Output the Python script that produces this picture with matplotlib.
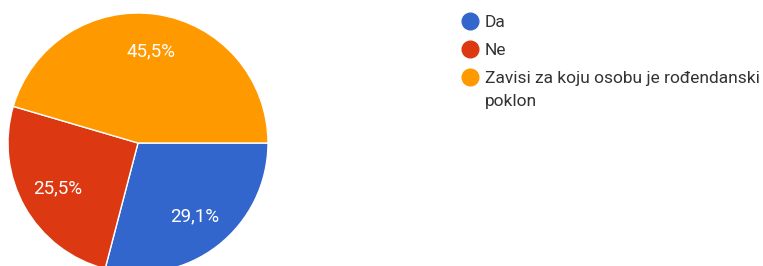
import matplotlib.pyplot as plt

labels = ["Da", "Ne", "Zavisi za koju osobu je rođendanski\npoklon"]
values = [29.1, 25.5, 45.5]
colors = ["#3366CC", "#DC3912", "#FF9900"]

plt.rcParams['font.family'] = ['Roboto', 'DejaVu Sans']

W, H = 763, 266
fig = plt.figure(figsize=(W / 100, H / 100), dpi=100)

# pie centre (138, 143) px, radius 130 px
cx, cy, r = 138, 143, 130
ax = fig.add_axes([(cx - r) / W, (H - cy - r) / H, 2 * r / W, 2 * r / H])
wedges, texts, autotexts = ax.pie(
    values, colors=colors, startangle=0, counterclock=False,
    autopct=lambda p: f"{p:.1f}%".replace('.', ','), pctdistance=0.71,
    wedgeprops=dict(edgecolor='white', linewidth=1),
    textprops=dict(color='white', fontsize=13.5))
ax.set_xlim(-1, 1)
ax.set_ylim(-1, 1)
ax.set_aspect('equal')
ax.axis('off')

# legend drawn by hand: circle + text, first line aligned with the circle
for i, (lab, c) in enumerate(zip(labels, colors)):
    y = 21 + 28 * i
    fig.lines.append(plt.Line2D([470 / W], [1 - y / H], transform=fig.transFigure,
                                marker='o', markersize=12, linestyle='none',
                                markerfacecolor=c, markeredgecolor=c))
    for j, line in enumerate(lab.split('\n')):
        fig.text(485 / W, 1 - (y + 6 + 23 * j) / H, line, fontsize=12.5,
                 color='#333333', va='baseline', ha='left')

fig.savefig("out.png", dpi=100)
